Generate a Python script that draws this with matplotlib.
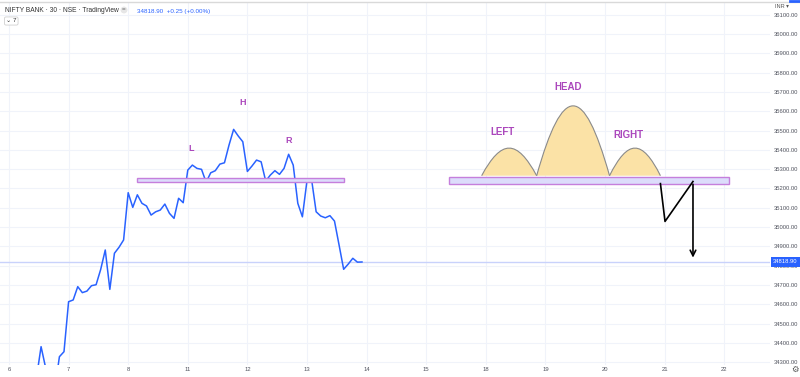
import numpy as np
import matplotlib
matplotlib.use('Agg')
import matplotlib.pyplot as plt
import matplotlib.patches as mpatches
from matplotlib.path import Path

plt.rcParams['font.family'] = ['Liberation Sans', 'DejaVu Sans']

# 30 min bars, 13 per trading day; bar 0 = first bar of day "6"
BARS_PER_DAY = 13
day_labels = ['6', '7', '8', '11', '12', '13', '14', '15', '18', '19', '20', '21', '22']
first_bar = 6
close = [34220, 34380, 34270, 34180, 34160, 34328, 34354,
         34613, 34622, 34691, 34660, 34668, 34696, 34701, 34780, 34881, 34677, 34864, 34895, 34933,
         35178, 35102, 35167, 35123, 35109, 35062, 35079, 35088, 35119, 35071, 35045, 35149, 35126,
         35295, 35321, 35304, 35299, 35232, 35281, 35292, 35326, 35333, 35425, 35506, 35472, 35442,
         35288, 35316, 35347, 35338, 35238, 35269, 35292, 35273, 35304, 35377, 35321, 35123, 35053,
         35240, 35247, 35079, 35057, 35048, 35059, 35031, 34907, 34781, 34808, 34838, 34818, 34818.9]
last_price = 34818.90
price_ticks = np.arange(34300, 36101, 100)

# drawings (bar index, price)
band_left = (28.0, 73.1, 35233, 35254)
band_right = (96.0, 157.1, 35223, 35257)
arc_base = 35266
arcs = [(103.1, 115.1, 35409), (115.1, 131.0, 35628), (131.0, 142.1, 35409)]
zigzag_x = [142.1, 143.1, 149.2]
zigzag_y = [35225, 35029, 35236]
arrow_end = (149.2, 34827)
small_labels = [('L', 39.8, 35405), ('H', 51.0, 35645), ('R', 60.9, 35447)]
big_labels = [('LEFT', 107.7, 35495), ('HEAD', 121.9, 35724), ('RIGHT', 135.1, 35478)]

W, H = 800, 377
fig = plt.figure(figsize=(8, 3.77), dpi=100)
ax = fig.add_axes([0, 12 / H, 770 / W, 1 - 15 / H])

grid_c = '#f0f3fa'
for yv in price_ticks:
    ax.axhline(yv, color=grid_c, lw=0.8, zorder=0)
xt = [i * BARS_PER_DAY for i in range(len(day_labels))]
for xv in xt:
    ax.axvline(xv, color=grid_c, lw=0.8, zorder=0)

ax.axhline(last_price, color='#c9d2fb', lw=1.0, zorder=1)

bars = np.arange(first_bar, first_bar + len(close))
ax.plot(bars, close, color='#2962ff', lw=1.1, zorder=3)

for (x0, x1, y0, y1) in [band_left, band_right]:
    ax.add_patch(mpatches.Rectangle((x0, y0), x1 - x0, y1 - y0, facecolor='#dcdcfb',
                                    edgecolor='#c57fdc', lw=1.0, zorder=4))

for (x0, x1, top) in arcs:
    w = x1 - x0
    c = arc_base + (top - arc_base) * 4 / 3
    verts = [(x0, arc_base), (x0 + 0.36 * w, c), (x1 - 0.36 * w, c), (x1, arc_base), (x0, arc_base)]
    codes = [Path.MOVETO, Path.CURVE4, Path.CURVE4, Path.CURVE4, Path.CLOSEPOLY]
    ax.add_patch(mpatches.PathPatch(Path(verts, codes), facecolor='#fbe2a6', edgecolor='none', zorder=4))
    ax.add_patch(mpatches.PathPatch(Path(verts[:4], codes[:4]), facecolor='none',
                                    edgecolor='#8a8a8a', lw=0.8, zorder=5))

ax.plot(zigzag_x, zigzag_y, color='black', lw=1.2, zorder=6)
ax.annotate('', xy=arrow_end, xytext=(zigzag_x[-1], zigzag_y[-1]),
            arrowprops=dict(arrowstyle='->', color='black', lw=1.2, mutation_scale=10), zorder=6)

for t, x, y in small_labels:
    ax.text(x, y, t, color='#ab47bc', fontsize=6.5, fontweight='bold', ha='center', va='center', zorder=6)
for t, x, y in big_labels:
    ax.text(x, y, t, color='#ab47bc', fontsize=7, fontweight='bold', ha='center', va='center', zorder=6)

ax.set_xlim(-1.96, 166)
ax.set_ylim(34285, 36161)
ax.set_xticks(xt)
ax.set_xticklabels(day_labels)
ax.yaxis.tick_right()
ax.set_yticks(price_ticks)
ax.set_yticklabels([f'{v:.2f}' for v in price_ticks])
ax.tick_params(axis='both', length=0, labelsize=4.2, colors='#50535e')
ax.tick_params(axis='x', pad=1.5)
ax.tick_params(axis='y', pad=3)
for s in ax.spines.values():
    s.set_visible(False)

# last price tag
ax.text(1.004, last_price, f'{last_price:.2f}', transform=ax.get_yaxis_transform(),
        fontsize=4.2, color='white', va='center', ha='left', zorder=10, clip_on=False,
        bbox=dict(boxstyle='square,pad=0.35', facecolor='#2962ff', edgecolor='none'))

# header
fig.text(5 / W, 1 - 10 / H, 'NIFTY BANK · 30 · NSE · TradingView', fontsize=4.8, color='#333333', va='center')
fig.text(124 / W, 1 - 10 / H, '=', fontsize=4.5, color='#555555', va='center', ha='center',
         bbox=dict(boxstyle='circle,pad=0.15', facecolor='#e6e6e6', edgecolor='none'))
fig.text(137 / W, 1 - 11 / H, '34818.90  +0.25 (+0.00%)', fontsize=4.5, color='#2962ff', va='center')
fig.text(6 / W, 1 - 21 / H, '⌄ 7', fontsize=4.5, color='#333333', va='center',
         bbox=dict(boxstyle='round,pad=0.25', facecolor='white', edgecolor='#d0d0d0', lw=0.6))
fig.text(775 / W, 1 - 7 / H, 'INR ▾', fontsize=4, color='#555555', va='center')
fig.text(795 / W, 1 - 370 / H, '⚙', fontsize=6, color='#555555', va='center', ha='center')
fig.add_artist(plt.Line2D([0, 1], [1 - 1.5 / H] * 2, color='#d9d9d9', lw=1.0))
fig.add_artist(plt.Line2D([790 / W, 1], [1 - 1 / H] * 2, color='#2962ff', lw=2.0))

fig.savefig('out.png', dpi=100)
